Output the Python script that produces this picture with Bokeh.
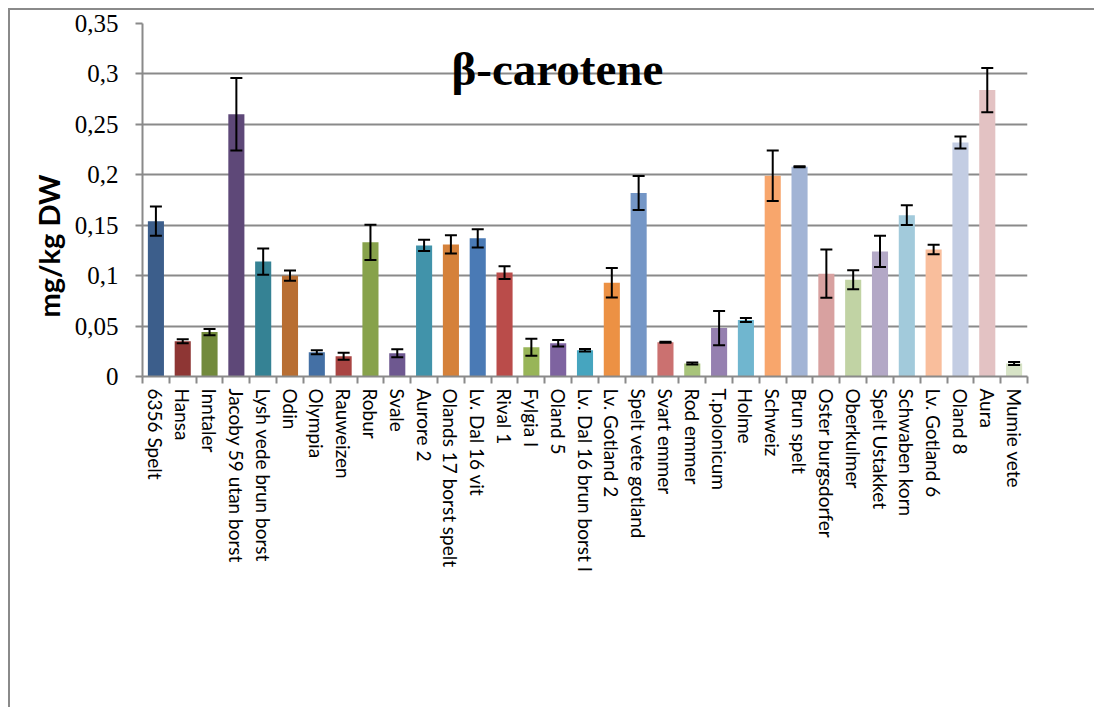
import numpy as np
from bokeh.plotting import figure
from bokeh.models import (ColumnDataSource, Range1d, FixedTicker, Whisker, TeeHead,
                          CustomJSTickFormatter, Label, Title)
from bokeh.embed import file_html
from bokeh.resources import INLINE
from math import pi

categories = ["6356 Spelt", "Hansa", "Inntaler", "Jacoby 59 utan borst", "Lysh vede brun borst",
              "Odin", "Olympia", "Rauweizen", "Robur", "Svale", "Aurore 2", "Olands 17 borst spelt",
              "Lv. Dal 16 vit", "Rival 1", "Fylgia I", "Oland 5", "Lv. Dal 16 brun borst I",
              "Lv. Gotland 2", "Spelt vete gotland", "Svart emmer", "Rod emmer", "T.polonicum",
              "Holme", "Schweiz", "Brun spelt", "Oster burgsdorfer", "Oberkulmer", "Spelt Ustakket",
              "Schwaben korn", "Lv. Gotland 6", "Oland 8", "Aura", "Mumie vete"]
values = [0.154, 0.035, 0.044, 0.260, 0.114, 0.100, 0.024, 0.020, 0.133, 0.023, 0.130, 0.131,
          0.137, 0.103, 0.029, 0.033, 0.026, 0.093, 0.182, 0.034, 0.013, 0.048, 0.056, 0.199,
          0.208, 0.102, 0.096, 0.124, 0.160, 0.126, 0.232, 0.284, 0.013]
errors = [0.0145, 0.002, 0.003, 0.036, 0.013, 0.005, 0.002, 0.0035, 0.0175, 0.004, 0.0056, 0.009,
          0.009, 0.0064, 0.0085, 0.0033, 0.0013, 0.0147, 0.0168, 0.0005, 0.001, 0.017, 0.002, 0.025,
          0.0005, 0.024, 0.0094, 0.0155, 0.0098, 0.0047, 0.006, 0.022, 0.0015]
colors = ["#3C5E8B", "#8E3634", "#728A3C", "#5E4878", "#358294", "#B86E32", "#4470A5", "#A94442",
          "#87A24B", "#6E5890", "#4193AA", "#D5813A", "#4A7AB5", "#BA4C4A", "#98B558", "#7E63A0",
          "#46A5BF", "#EC9144", "#7496C6", "#CB7170", "#A8C47A", "#9580B0", "#70B6CF", "#F8A66C",
          "#A2B4D5", "#D8A1A0", "#C1D3A4", "#B3A8C6", "#A2CADB", "#F9BE9C", "#C3CDE3", "#E3C2C3",
          "#D7E3C6"]
y_ticks = [0, 0.05, 0.1, 0.15, 0.2, 0.25, 0.3, 0.35]

n = len(categories)
xs = np.arange(n) + 0.5
vals = np.array(values)
errs = np.array(errors)
src = ColumnDataSource(dict(x=xs, top=vals, upper=vals + errs, lower=vals - errs, color=colors))

GRAY = "#8a8a8a"
p = figure(width=1086, height=699, output_backend="svg", toolbar_location=None,
           x_range=Range1d(0, n), y_range=Range1d(0, 0.35),
           min_border_left=132, min_border_right=69, min_border_top=13, min_border_bottom=333)
p.outline_line_color = None
p.styles = {"border-top": "2px solid #8a8a8a", "border-left": "2px solid #8a8a8a",
            "margin-left": "8px", "margin-top": "8px"}

p.vbar(x="x", top="top", width=0.6, fill_color="color", line_color=None, source=src)
p.add_layout(Whisker(base="x", upper="upper", lower="lower", source=src, level="overlay",
                     line_color="black", line_width=2,
                     upper_head=TeeHead(size=12, line_width=2, line_color="black"),
                     lower_head=TeeHead(size=12, line_width=2, line_color="black")))

# y axis
p.yaxis.ticker = FixedTicker(ticks=y_ticks)
p.yaxis.formatter = CustomJSTickFormatter(
    code="return tick === 0 ? '0' : String(+tick.toFixed(2)).replace('.', ',');")
p.yaxis.major_label_text_font = "Times New Roman"
p.yaxis.major_label_text_font_size = "25px"
p.yaxis.major_label_text_color = "black"
p.yaxis.major_label_standoff = 17
p.yaxis.major_tick_out = 7
p.yaxis.major_tick_in = 0
p.yaxis.major_tick_line_color = GRAY
p.yaxis.major_tick_line_width = 2
p.yaxis.minor_tick_line_color = None
p.yaxis.axis_line_color = GRAY
p.yaxis.axis_line_width = 2

p.ygrid.grid_line_color = GRAY
p.ygrid.grid_line_width = 2
p.xgrid.grid_line_color = None

# x axis
p.xaxis.ticker = FixedTicker(ticks=list(xs), minor_ticks=list(range(n + 1)))
p.xaxis.major_label_overrides = {float(x): c for x, c in zip(xs, categories)}
p.xaxis.major_label_orientation = -pi / 2
p.xaxis.major_label_text_font = "Lato"
p.xaxis.major_label_text_font_size = "19px"
p.xaxis.major_label_text_color = "black"
p.xaxis.major_label_standoff = 5
p.xaxis.major_tick_line_color = None
p.xaxis.major_tick_out = 0
p.xaxis.major_tick_in = 0
p.xaxis.minor_tick_out = 7
p.xaxis.minor_tick_in = 0
p.xaxis.minor_tick_line_color = GRAY
p.xaxis.minor_tick_line_width = 2
p.xaxis.axis_line_color = GRAY
p.xaxis.axis_line_width = 2

# y axis title
p.add_layout(Title(text="mg/kg DW", align="left", offset=59, standoff=12,
                   text_font="Lato", text_font_style="bold", text_font_size="29px",
                   text_color="black"), "left")
# chart title
p.add_layout(Label(x=15.47, y=0.305, text="β-carotene",
                   text_align="center", text_baseline="alphabetic",
                   text_font="Times New Roman", text_font_style="bold", text_font_size="47px",
                   text_color="black"))

open("out.html", "w").write(file_html(p, INLINE))
